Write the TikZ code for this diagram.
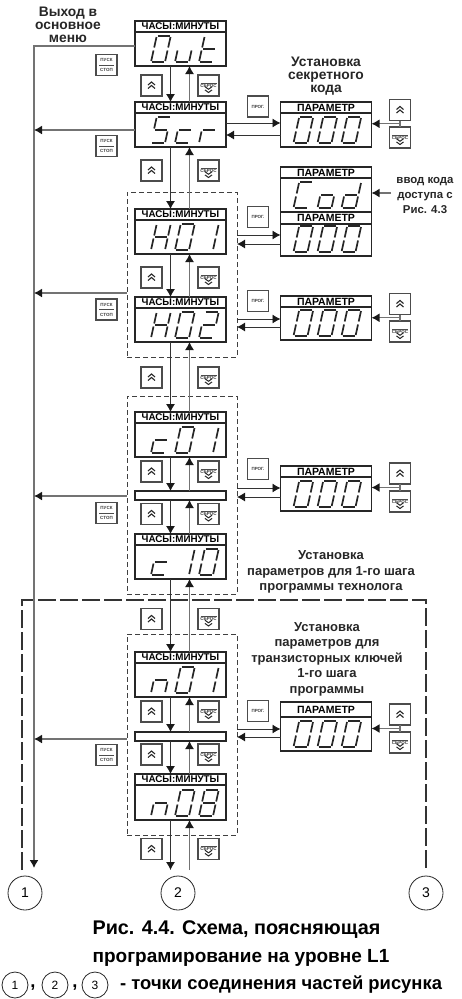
\documentclass[tikz,border=0pt]{standalone}
\usepackage{fontspec}
\setmainfont{Liberation Sans}
\usetikzlibrary{arrows.meta, calc}
\definecolor{lineGray}{gray}{0.45}
\definecolor{keyGray}{gray}{0.3}

% seven segments of one glyph, origin bottom left
\newcommand{\sga}{\draw[segline] (2,26) -- (14,26);}
\newcommand{\sgb}{\draw[segline] (15,25) -- (15,14.5);}
\newcommand{\sgc}{\draw[segline] (15,11.5) -- (15,1);}
\newcommand{\sgd}{\draw[segline] (2,0) -- (14,0);}
\newcommand{\sge}{\draw[segline] (1,11.5) -- (1,1);}
\newcommand{\sgf}{\draw[segline] (1,25) -- (1,14.5);}
\newcommand{\sgg}{\draw[segline] (2,13) -- (14,13);}
\newcommand{\defglyph}[2]{\expandafter\def\csname glyph#1\endcsname{#2}}
\defglyph{O}{\sga\sgb\sgc\sgd\sge\sgf}
\defglyph{0}{\sga\sgb\sgc\sgd\sge\sgf}
\defglyph{u}{\sgc\sgd\sge}
\defglyph{t}{\sgd\sge\sgf\sgg}
\defglyph{S}{\sga\sgc\sgd\sgf\sgg}
\defglyph{c}{\sgd\sge\sgg}
\defglyph{r}{\sge\sgg}
\defglyph{H}{\sgb\sgc\sge\sgf\sgg}
\defglyph{1}{\sgb\sgc}
\defglyph{2}{\sga\sgb\sgd\sge\sgg}
\defglyph{8}{\sga\sgb\sgc\sgd\sge\sgf\sgg}
\defglyph{C}{\sga\sgd\sge\sgf}
\defglyph{o}{\sgc\sgd\sge\sgg}
\defglyph{d}{\sgb\sgc\sgd\sge\sgg}
\defglyph{n}{\sgc\sge\sgg}

% #1 name, #2 centre x, #3 top y, #4 height, #5 header height, #6 header, #7 glyphs
\newcommand{\dispnode}[7]{%
  \node[disp, minimum height=#4pt] (#1) at (#2,#3) {};
  \node[hdr, minimum height=#5pt] (#1h) at (#1.north) {#6};
  \begin{scope}[shift={([yshift=4pt]#1.south west)}, x=1pt, y=1pt, xslant=0.22]
    \foreach \ch [count=\i from 0] in {#7} {
      \begin{scope}[xshift={(\i*24+\dispoff)*1pt}]
        \csname glyph\ch\endcsname
      \end{scope}
    }
  \end{scope}
}
\newcommand{\dispoff}{15}
\newcommand{\hdrsize}{9.8}
\newcommand{\updown}[2]{%
  \draw[arr] ([xshift=-10pt]#1.south) -- ([xshift=-10pt]#2.north);
  \draw[arrup] ([xshift=9pt]#2.north) -- ([xshift=9pt]#1.south);
}
% #1 from, #2 to, #3 upper y, #4 lower y
\newcommand{\lrlink}[4]{%
  \draw[arr] (#1.east |- 0,#3) -- (#2.west |- 0,#3);
  \draw[arr] (#2.west |- 0,#4) -- (#1.east |- 0,#4);
}

\begin{document}
\begin{tikzpicture}[
    x=1pt, y=-1pt,
    font=\bfseries,
    disp/.style={draw=black!85, fill=white, line width=1.3pt, anchor=north,
                 minimum width=91pt, inner sep=0pt, outer sep=0pt},
    hdr/.style={draw=black!85, fill=white, line width=1.3pt, anchor=north,
                minimum width=91pt, inner sep=0pt, outer sep=0pt,
                font=\fontsize{\hdrsize}{8}\bfseries},
    segline/.style={line width=1.7pt, black!85},
    bar/.style={disp, minimum height=9pt},
    arr/.style={black!80, line width=0.9pt, -{Latex[length=8pt,width=9pt,black!90]}},
    arrup/.style={arr, lineGray, line width=1.2pt},
    arrbus/.style={arr, lineGray, line width=1.4pt},
    wire/.style={lineGray, line width=1.2pt},
    grp/.style={draw=black!75, line width=1pt, dash pattern=on 5pt off 3pt,
                minimum width=110pt, anchor=north, inner sep=0pt, outer sep=0pt},
    key/.style={draw=keyGray, fill=white, line width=1.1pt, minimum size=21pt,
                inner sep=0pt, outer sep=0pt, align=center, text=black!75,
                font=\fontsize{4.5}{9}\bfseries},
    stopkey/.style={key, path picture={
        \draw[keyGray, line width=0.6pt] ([xshift=3pt]path picture bounding box.west)
          -- ([xshift=-3pt]path picture bounding box.east);}},
    upkey/.style={key, path picture={
        \begin{scope}[shift={(path picture bounding box.center)}]
          \draw[black!85, line width=1.1pt] (-3.5,-0.5) -- (0,-3.5) -- (3.5,-0.5);
          \draw[black!85, line width=1.1pt] (-3.5,3) -- (0,0) -- (3.5,3);
        \end{scope}}},
    downkey/.style={key, path picture={
        \node[anchor=north, inner sep=1.5pt, font=\fontsize{4.5}{5}\bfseries, text=black!75]
          at (path picture bounding box.north) {СБРОС};
        \begin{scope}[shift={(path picture bounding box.center)}]
          \draw[keyGray, line width=0.5pt] (-8,-2.5) -- (8,-2.5);
          \draw[black!85, line width=1pt] (-3.5,1.2) -- (0,3.8) -- (3.5,1.2);
          \draw[black!85, line width=1pt] (-3.5,4.4) -- (0,7) -- (3.5,4.4);
        \end{scope}}},
    lbl/.style={align=center, inner sep=0pt, font=\fontsize{13}{15.5}\bfseries, text=black!85},
    lbltop/.style={lbl, font=\fontsize{13.8}{13}\bfseries},
    ptmark/.style={draw=black!85, fill=white, circle, line width=0.8pt, inner sep=0pt,
                 minimum size=34pt, font=\fontsize{14}{14}\selectfont},
    smallmark/.style={ptmark, minimum size=26pt, font=\fontsize{12}{12}\selectfont},
    capline/.style={inner sep=0pt, font=\fontsize{18.4}{18.4}\bfseries},
  ]
    \useasboundingbox (0,0) rectangle (462,999);

    % dashed groups
    \node[grp, minimum height=165pt] (grpH) at (182,192) {};
    \node[grp, minimum height=198pt] (grpC) at (182,396) {};
    \node[grp, minimum height=201pt] (grpN) at (182,634) {};
    \draw[black!80, line width=1.3pt, dash pattern=on 18pt off 4pt]
      (22,870) -- (22,600) -- (426,600) -- (426,870);

    % main column
    \dispnode{out}{180.5}{21}{45}{11}{ЧАСЫ:МИНУТЫ}{O,u,t}
    \dispnode{scr}{180.5}{102}{45}{11}{ЧАСЫ:МИНУТЫ}{S,c,r}
    \dispnode{hA}{180.5}{209}{45}{11}{ЧАСЫ:МИНУТЫ}{H,0,1}
    \dispnode{hB}{180.5}{297}{45}{11}{ЧАСЫ:МИНУТЫ}{H,0,2}
    \dispnode{cA}{180.5}{412}{45}{11}{ЧАСЫ:МИНУТЫ}{c,0,1}
    \node[bar] (barC) at (180.5,491) {};
    \dispnode{cB}{180.5}{534}{45}{11}{ЧАСЫ:МИНУТЫ}{c,1,0}
    \dispnode{nA}{180.5}{652}{45}{11}{ЧАСЫ:МИНУТЫ}{n,0,1}
    \node[bar] (barN) at (180.5,732) {};
    \dispnode{nB}{180.5}{774}{46}{11}{ЧАСЫ:МИНУТЫ}{n,0,8}

    % right column
    \renewcommand{\dispoff}{12}
    \renewcommand{\hdrsize}{10.5}
    \dispnode{pS}{326}{102}{45}{11}{ПАРАМЕТР}{0,0,0}
    \dispnode{pCod}{326}{167}{45}{11}{ПАРАМЕТР}{C,o,d}
    \dispnode{pA}{326}{212}{44}{12}{ПАРАМЕТР}{0,0,0}
    \dispnode{pB}{326}{296}{44}{11}{ПАРАМЕТР}{0,0,0}
    \dispnode{pC}{326}{466}{45}{11}{ПАРАМЕТР}{0,0,0}
    \dispnode{pN}{326}{702}{49}{15}{ПАРАМЕТР}{0,0,0}

    % up and down between the displays
    \updown{out}{scr}
    \updown{scr}{hA}
    \updown{hA}{hB}
    \updown{hB}{cA}
    \updown{cA}{barC}
    \updown{barC}{cB}
    \updown{cB}{nA}
    \updown{nA}{barN}
    \updown{barN}{nB}
    \coordinate (endA) at (170.5,870);
    \coordinate (endB) at (189.5,870);
    \draw[arr] (endA |- nB.south) -- (endA);
    \draw[arrup] (endB) -- (endB |- nB.south);

    % links to the parameter displays
    \lrlink{scr}{pS}{123}{135}
    \lrlink{grpH}{pA}{235}{244}
    \lrlink{grpH}{pB}{319}{327}
    \lrlink{grpC}{pC}{488}{497}
    \lrlink{grpN}{pN}{729}{737}

    % exit line on the left
    \coordinate (busEnd) at (34,868);
    \draw[arrbus] (out.west |- 0,46) -| (busEnd);
    \draw[arrbus] (scr.west |- 0,130) -- (busEnd |- 0,130);
    \draw[arrbus] (grpH.west |- 0,293) -- (busEnd |- 0,293);
    \draw[arrbus] (grpC.west |- 0,496) -- (busEnd |- 0,496);
    \draw[arrbus] (grpN.west |- 0,739) -- (busEnd |- 0,739);

    % keys
    \foreach \y [count=\i] in {65,146,309.5,513,755}
      \node[stopkey] (stop\i) at (106.5,\y) {ПУСК\\[1pt]СТОП};
    \foreach \y [count=\i] in {85.5,170.5,277.5,377.5,471.5,514,619,711.5,754.5,849} {
      \node[upkey] (up\i) at (151.5,\y) {};
      \node[downkey] (down\i) at (208.5,\y) {};
    }
    \foreach \y [count=\i] in {106.5,217,301,469,711}
      \node[key] (prog\i) at (258,\y) {ПРОГ.};

    % key pairs at the right
    \foreach \nm/\yu/\yd in {pS/110/137.5, pB/304/331.5, pC/473.5/501.5, pN/714.5/742.5} {
      \node[upkey] (up\nm) at (400,\yu) {};
      \node[downkey] (down\nm) at (400,\yd) {};
      \draw[wire] (up\nm) -- (down\nm);
      \coordinate (join\nm) at ($(up\nm.south)!0.5!(down\nm.north)$);
      \draw[arrbus] (join\nm) -- (join\nm -| \nm.east);
    }

    % labels
    \node[lbltop] (lbExit) at (68,25) {Выход в\\основное\\меню};
    \node[lbltop] (lbSecret) at (326,76) {Установка\\секретного\\кода};
    \node[lbl, font=\fontsize{11.4}{15}\bfseries] (lbCode) at (425,195) {ввод кода\\доступа с\\Рис. 4.3};
    \coordinate (codeFrom) at (391,193);
    \draw[arrbus] (codeFrom) -- (codeFrom -| pCod.east);
    \node[lbl] (lbTech) at (331,572) {Установка\\параметров для 1-го шага\\программы технолога};
    \node[lbl] (lbKeys) at (327,659) {Установка\\параметров для\\транзисторных ключей\\1-го шага\\программы};

    % connection points
    \node[ptmark] (ptA) at (25,893) {1};
    \node[ptmark] (ptB) at (178,893) {2};
    \node[ptmark] (ptC) at (426,893) {3};

    % caption
    \node[capline, font=\fontsize{19.8}{19.8}\bfseries] (capA) at (236.5,930) {Рис. 4.4. Схема, поясняющая};
    \node[capline, font=\fontsize{19}{19}\bfseries] (capB) at (241,958) {програмирование на уровне L1};
    \node[smallmark] (legA) at (15,985) {1};
    \node[smallmark] (legB) at (55,985) {2};
    \node[smallmark] (legC) at (95,985) {3};
    \node[capline] (comA) at (33,988) {,};
    \node[capline] (comB) at (75,988) {,};
    \node[capline, anchor=west] (capC) at (120,985) {- точки соединения частей рисунка};
  \end{tikzpicture}
\end{document}
